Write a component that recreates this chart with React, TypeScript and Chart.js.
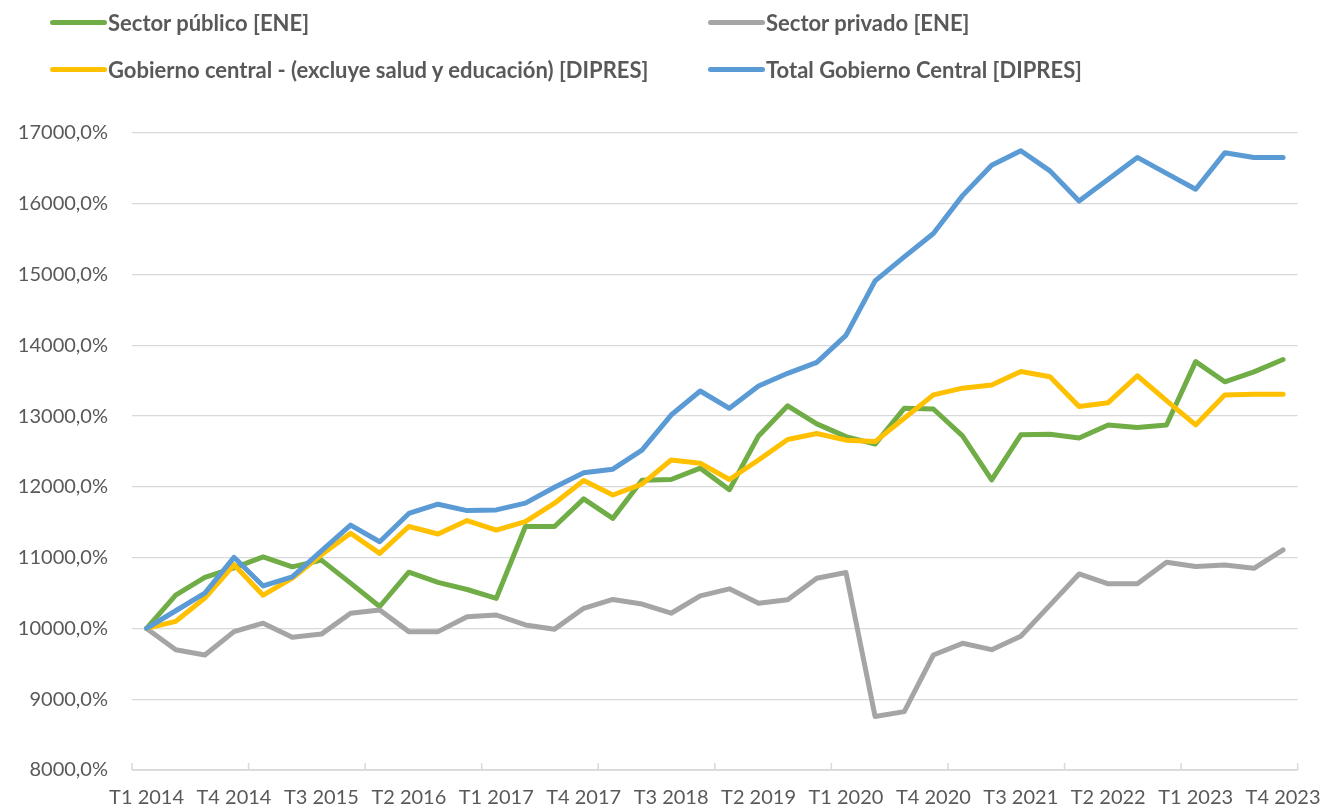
import React, { useEffect, useRef } from 'react';
import { Chart, registerables } from 'chart.js';

Chart.register(...registerables);

const categories = [
  'T1 2014', 'T2 2014', 'T3 2014', 'T4 2014',
  'T1 2015', 'T2 2015', 'T3 2015', 'T4 2015',
  'T1 2016', 'T2 2016', 'T3 2016', 'T4 2016',
  'T1 2017', 'T2 2017', 'T3 2017', 'T4 2017',
  'T1 2018', 'T2 2018', 'T3 2018', 'T4 2018',
  'T1 2019', 'T2 2019', 'T3 2019', 'T4 2019',
  'T1 2020', 'T2 2020', 'T3 2020', 'T4 2020',
  'T1 2021', 'T2 2021', 'T3 2021', 'T4 2021',
  'T1 2022', 'T2 2022', 'T3 2022', 'T4 2022',
  'T1 2023', 'T2 2023', 'T3 2023', 'T4 2023',
];

const sectorPublico = [
  10000, 10470, 10720, 10855, 11010, 10870, 10965, 10640, 10310, 10795,
  10650, 10550, 10425, 11440, 11440, 11830, 11555, 12095, 12105, 12265,
  11960, 12720, 13145, 12890, 12710, 12605, 13110, 13100, 12720, 12100,
  12735, 12745, 12690, 12875, 12840, 12875, 13770, 13485, 13625, 13800,
];

const sectorPrivado = [
  10000, 9700, 9625, 9955, 10075, 9875, 9920, 10215, 10260, 9955,
  9955, 10165, 10190, 10050, 9990, 10285, 10410, 10345, 10215, 10460,
  10560, 10355, 10405, 10710, 10790, 8755, 8825, 9625, 9790, 9700,
  9890, 10330, 10770, 10630, 10630, 10935, 10875, 10895, 10850, 11110,
];

const gobiernoCentralExcl = [
  10000, 10100, 10430, 10900, 10470, 10710, 11040, 11345, 11060, 11440,
  11335, 11525, 11390, 11510, 11770, 12090, 11885, 12040, 12380, 12335,
  12105, 12380, 12670, 12755, 12660, 12640, 12970, 13300, 13395, 13440,
  13630, 13555, 13135, 13190, 13570, 13220, 12875, 13300, 13310, 13310,
];

const totalGobiernoCentral = [
  10000, 10250, 10500, 11005, 10600, 10730, 11095, 11460, 11225, 11625,
  11755, 11665, 11675, 11770, 11995, 12200, 12250, 12520, 13015, 13355,
  13110, 13425, 13605, 13760, 14140, 14910, 15250, 15580, 16115, 16545,
  16750, 16465, 16040, 16345, 16655, 16430, 16205, 16720, 16655, 16655,
];

const seriesNames = [
  'Sector público [ENE]',
  'Sector privado [ENE]',
  'Gobierno central - (excluye salud y educación) [DIPRES]',
  'Total Gobierno Central [DIPRES]',
];

const seriesColors = ['#70AD47', '#A5A5A5', '#FFC000', '#5B9BD5'];

const FONT = 'Lato, Carlito, Calibri, "Noto Sans", sans-serif';
const TEXT_COLOR = '#595959';
const GRID_COLOR = '#D9D9D9';

const xAxisPlugin = {
  id: 'xAxisTicks',
  beforeDatasetsDraw(chart: any) {
    const { ctx, chartArea, scales } = chart;
    const xs = scales.x;
    ctx.save();
    ctx.strokeStyle = GRID_COLOR;
    ctx.lineWidth = 1.5;
    ctx.beginPath();
    ctx.moveTo(chartArea.left, chartArea.bottom);
    ctx.lineTo(chartArea.right, chartArea.bottom);
    for (let i = 0; i <= categories.length; i += 4) {
      const px = xs.getPixelForValue(i - 0.5);
      ctx.moveTo(px, chartArea.bottom);
      ctx.lineTo(px, chartArea.bottom - 7);
    }
    ctx.stroke();
    ctx.restore();
  },
};

export default function App() {
  const canvasRef = useRef<HTMLCanvasElement | null>(null);

  useEffect(() => {
    if (!canvasRef.current) return;
    const datasetsValues = [sectorPublico, sectorPrivado, gobiernoCentralExcl, totalGobiernoCentral];
    const orders = [3, 2, 1, 0];
    const chart = new Chart(canvasRef.current, {
      type: 'line',
      data: {
        labels: categories,
        datasets: datasetsValues.map((vals, i) => ({
          label: seriesNames[i],
          data: vals,
          borderColor: seriesColors[i],
          backgroundColor: seriesColors[i],
          borderWidth: 5,
          pointRadius: 0,
          pointHoverRadius: 0,
          tension: 0,
          borderJoinStyle: 'round' as const,
          borderCapStyle: 'round' as const,
          order: orders[i],
          fill: false,
        })),
      },
      options: {
        responsive: false,
        animation: false,
        layout: { padding: { left: 0, top: 133, right: 37, bottom: 0 } },
        plugins: {
          legend: { display: false },
          tooltip: { enabled: false },
        },
        scales: {
          x: {
            type: 'category',
            offset: true,
            grid: { display: false, drawTicks: false, offset: true },
            border: { display: false },
            ticks: {
              autoSkip: false,
              maxRotation: 0,
              minRotation: 0,
              padding: 16,
              color: TEXT_COLOR,
              font: { family: FONT, size: 20 },
              callback: (_v: any, i: number) => (i % 3 === 0 ? categories[i] : ''),
            },
            afterFit: (scale: any) => {
              scale.height = 40;
            },
          },
          y: {
            min: 8000,
            max: 17000,
            grid: { color: GRID_COLOR, lineWidth: 1.3, drawTicks: false },
            border: { display: false },
            ticks: {
              stepSize: 1000,
              padding: 24,
              color: TEXT_COLOR,
              font: { family: FONT, size: 20 },
              callback: (v: any) => `${v},0%`,
            },
            afterFit: (scale: any) => {
              scale.width = 132;
            },
          },
        },
      },
      plugins: [xAxisPlugin],
    });
    return () => chart.destroy();
  }, []);

  const legendPos = [
    { left: 50, top: 22 },
    { left: 708, top: 22 },
    { left: 50, top: 69 },
    { left: 708, top: 69 },
  ];

  return (
    <div
      style={{
        position: 'fixed',
        left: 0,
        top: 0,
        width: 1337,
        height: 810,
        background: '#ffffff',
        overflow: 'hidden',
      }}
    >
      <canvas
        ref={canvasRef}
        width={1337}
        height={810}
        style={{ position: 'absolute', left: 0, top: 0, width: 1337, height: 810 }}
      />
      {seriesNames.map((name, i) => (
        <div
          key={name}
          style={{
            position: 'absolute',
            left: legendPos[i].left,
            top: legendPos[i].top - 15,
            height: 30,
            display: 'flex',
            alignItems: 'center',
            whiteSpace: 'nowrap',
          }}
        >
          <span
            style={{
              display: 'inline-block',
              width: 57,
              height: 5,
              borderRadius: 3,
              background: seriesColors[i],
            }}
          />
          <span
            style={{
              marginLeft: 1,
              fontFamily: FONT,
              fontWeight: 700,
              fontSize: 22,
              color: TEXT_COLOR,
            }}
          >
            {name}
          </span>
        </div>
      ))}
    </div>
  );
}
